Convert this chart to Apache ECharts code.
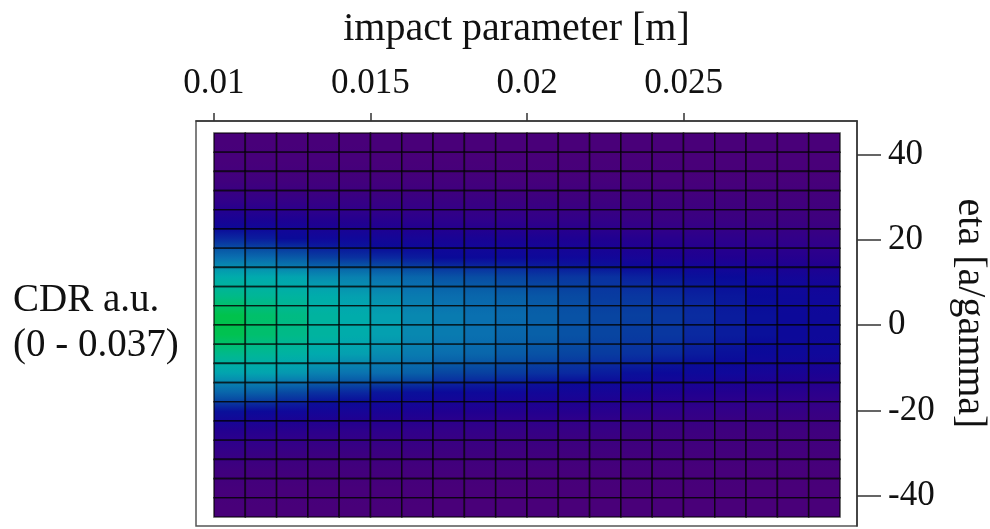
<!DOCTYPE html>
<html>
<head>
<meta charset="utf-8">
<script src="https://cdn.jsdelivr.net/npm/echarts@6/dist/echarts.min.js"></script>
<style>
  html, body { margin: 0; padding: 0; background: #ffffff; }
  #chart { width: 990px; height: 529px; }
</style>
</head>
<body>
<div id="chart"></div>
<script>
// Cell centres along the impact parameter [m]
const impactParameter = [
  0.0105, 0.0115, 0.0125, 0.0135, 0.0145, 0.0155, 0.0165, 0.0175, 0.0185, 0.0195,
  0.0205, 0.0215, 0.0225, 0.0235, 0.0245, 0.0255, 0.0265, 0.0275, 0.0285, 0.0295
];
// Cell centres along eta [a/gamma], top row first
const eta = [
  42.75, 38.25, 33.75, 29.25, 24.75, 20.25, 15.75, 11.25, 6.75, 2.25,
  -2.25, -6.75, -11.25, -15.75, -20.25, -24.75, -29.25, -33.75, -38.25, -42.75
];
// CDR intensity (a.u.), one row per eta value, one column per impact parameter
const cdr = [
  [0.0007,0.0007,0.0007,0.0007,0.0007,0.0007,0.0004,0.0004,0.0004,0.0004,0.0004,0.0004,0.0004,0.0004,0.0004,0.0004,0.0004,0.0004,0.0004,0.0004],
  [0.0011,0.0011,0.0011,0.0011,0.0011,0.0007,0.0007,0.0007,0.0007,0.0007,0.0007,0.0007,0.0007,0.0007,0.0007,0.0004,0.0004,0.0004,0.0004,0.0004],
  [0.0026,0.0026,0.0022,0.0022,0.0022,0.0019,0.0019,0.0019,0.0019,0.0015,0.0015,0.0015,0.0015,0.0015,0.0011,0.0011,0.0011,0.0011,0.0011,0.0011],
  [0.0059,0.0056,0.0052,0.0048,0.0048,0.0044,0.0044,0.0041,0.0041,0.0037,0.0037,0.0033,0.0033,0.0030,0.0030,0.0026,0.0026,0.0022,0.0022,0.0022],
  [0.0096,0.0093,0.0089,0.0081,0.0078,0.0074,0.0070,0.0067,0.0063,0.0063,0.0059,0.0059,0.0056,0.0048,0.0044,0.0044,0.0041,0.0037,0.0037,0.0033],
  [0.0141,0.0133,0.0122,0.0111,0.0111,0.0104,0.0100,0.0096,0.0096,0.0093,0.0093,0.0089,0.0085,0.0078,0.0074,0.0070,0.0067,0.0063,0.0059,0.0056],
  [0.0204,0.0196,0.0181,0.0159,0.0148,0.0141,0.0133,0.0122,0.0118,0.0118,0.0115,0.0111,0.0107,0.0100,0.0093,0.0089,0.0085,0.0081,0.0078,0.0074],
  [0.0274,0.0270,0.0259,0.0233,0.0222,0.0207,0.0192,0.0174,0.0170,0.0163,0.0155,0.0152,0.0148,0.0137,0.0130,0.0126,0.0122,0.0111,0.0104,0.0100],
  [0.0318,0.0303,0.0292,0.0274,0.0252,0.0237,0.0215,0.0200,0.0192,0.0185,0.0178,0.0167,0.0155,0.0152,0.0144,0.0137,0.0130,0.0122,0.0115,0.0111],
  [0.0370,0.0344,0.0322,0.0292,0.0274,0.0252,0.0229,0.0215,0.0204,0.0196,0.0185,0.0174,0.0163,0.0159,0.0152,0.0144,0.0133,0.0126,0.0118,0.0115],
  [0.0366,0.0340,0.0318,0.0292,0.0274,0.0252,0.0229,0.0215,0.0204,0.0192,0.0185,0.0174,0.0163,0.0155,0.0152,0.0141,0.0133,0.0126,0.0118,0.0115],
  [0.0315,0.0303,0.0289,0.0270,0.0252,0.0233,0.0215,0.0200,0.0192,0.0181,0.0174,0.0163,0.0155,0.0148,0.0141,0.0133,0.0126,0.0118,0.0115,0.0111],
  [0.0259,0.0259,0.0244,0.0222,0.0207,0.0200,0.0185,0.0163,0.0159,0.0155,0.0148,0.0141,0.0133,0.0126,0.0118,0.0115,0.0111,0.0100,0.0096,0.0093],
  [0.0192,0.0185,0.0167,0.0148,0.0141,0.0130,0.0126,0.0118,0.0115,0.0111,0.0107,0.0104,0.0100,0.0093,0.0089,0.0085,0.0081,0.0078,0.0074,0.0070],
  [0.0126,0.0118,0.0111,0.0104,0.0100,0.0096,0.0093,0.0085,0.0085,0.0081,0.0081,0.0078,0.0074,0.0067,0.0063,0.0059,0.0056,0.0052,0.0052,0.0048],
  [0.0081,0.0078,0.0074,0.0070,0.0067,0.0067,0.0063,0.0056,0.0056,0.0052,0.0052,0.0048,0.0048,0.0041,0.0037,0.0037,0.0033,0.0033,0.0030,0.0030],
  [0.0056,0.0052,0.0048,0.0044,0.0044,0.0041,0.0041,0.0037,0.0037,0.0033,0.0033,0.0030,0.0030,0.0026,0.0026,0.0022,0.0022,0.0022,0.0019,0.0019],
  [0.0030,0.0026,0.0026,0.0022,0.0022,0.0022,0.0019,0.0019,0.0019,0.0019,0.0015,0.0015,0.0015,0.0015,0.0015,0.0011,0.0011,0.0011,0.0011,0.0011],
  [0.0015,0.0015,0.0011,0.0011,0.0011,0.0011,0.0011,0.0007,0.0007,0.0007,0.0007,0.0007,0.0007,0.0007,0.0007,0.0007,0.0007,0.0004,0.0004,0.0004],
  [0.0007,0.0007,0.0007,0.0007,0.0007,0.0007,0.0004,0.0004,0.0004,0.0004,0.0004,0.0004,0.0004,0.0004,0.0004,0.0004,0.0004,0.0004,0.0004,0.0004]
];
const cdrRange = [0, 0.037];
const impactTicks = [0.01, 0.015, 0.02, 0.025];
const etaTicks = [-40, -20, 0, 20, 40];

// Colour scale: purple (low) -> deep blue -> teal -> green (high)
const colorStops = [
  [0.00, '#4b0078'], [0.10, '#3c007f'], [0.17, '#30008a'], [0.23, '#200090'],
  [0.30, '#10089a'], [0.33, '#0a0a98'], [0.38, '#0a28a0'], [0.43, '#0840a0'],
  [0.50, '#0860a8'], [0.55, '#0a70b0'], [0.62, '#0888b0'], [0.68, '#04a0b0'],
  [0.73, '#00aaae'], [0.78, '#00b2a2'], [0.84, '#00b890'], [0.91, '#00bf72'],
  [1.00, '#00c24c']
];
function hexToRgb(h) {
  return [parseInt(h.slice(1, 3), 16), parseInt(h.slice(3, 5), 16), parseInt(h.slice(5, 7), 16)];
}
function colorFor(v) {
  let f = (v - cdrRange[0]) / (cdrRange[1] - cdrRange[0]);
  f = Math.max(0, Math.min(1, f));
  for (let i = 1; i < colorStops.length; i++) {
    if (f <= colorStops[i][0]) {
      const [f0, c0] = colorStops[i - 1];
      const [f1, c1] = colorStops[i];
      const t = (f - f0) / (f1 - f0);
      const a = hexToRgb(c0), b = hexToRgb(c1);
      const c = a.map((x, k) => Math.round(x + (b[k] - x) * t));
      return 'rgb(' + c.join(',') + ')';
    }
  }
  return colorStops[colorStops.length - 1][1];
}

const cellData = [];
for (let r = 0; r < eta.length; r++) {
  for (let c = 0; c < impactParameter.length; c++) {
    cellData.push([impactParameter[c], eta[r], cdr[r][c], r, c]);
  }
}
const cellW = impactParameter[1] - impactParameter[0];
const cellH = eta[0] - eta[1];

// Each cell shades smoothly towards its upper and lower neighbours
function renderCell(params, api) {
  const x = api.value(0), y = api.value(1), v = api.value(2);
  const r = api.value(3), c = api.value(4);
  const p0 = api.coord([x - cellW / 2, y + cellH / 2]);
  const p1 = api.coord([x + cellW / 2, y - cellH / 2]);
  const above = r > 0 ? cdr[r - 1][c] : v;
  const below = r < eta.length - 1 ? cdr[r + 1][c] : v;
  const fill = new echarts.graphic.LinearGradient(0, 0, 0, 1, [
    { offset: 0, color: colorFor((v + above) / 2) },
    { offset: 0.5, color: colorFor(v) },
    { offset: 1, color: colorFor((v + below) / 2) }
  ]);
  return {
    type: 'rect',
    shape: { x: p0[0], y: p0[1], width: p1[0] - p0[0], height: p1[1] - p0[1] },
    style: { fill: fill, stroke: 'rgba(0,0,0,0.68)', lineWidth: 1.6 }
  };
}

const serif = '"Liberation Serif", "DejaVu Serif", serif';
const chart = echarts.init(document.getElementById('chart'), null, { renderer: 'canvas' });
chart.setOption({
  backgroundColor: '#ffffff',
  animation: false,
  title: {
    text: 'CDR a.u.\n(0 - 0.037)',
    left: 8,
    top: 273,
    textStyle: { fontFamily: serif, fontSize: 39, fontWeight: 'normal', color: '#111', lineHeight: 45 }
  },
  grid: {
    left: 196, right: 133, top: 121, bottom: 3,
    outerBoundsMode: 'none',
    containLabel: false,
    show: true, borderColor: '#555', borderWidth: 1.5, backgroundColor: '#ffffff'
  },
  xAxis: {
    type: 'value',
    position: 'top',
    min: 0.009425,
    max: 0.030543,
    name: 'impact parameter [m]',
    nameLocation: 'middle',
    nameGap: 72,
    nameTextStyle: { fontFamily: serif, fontSize: 40, color: '#111', padding: [0, 20, 0, 0] },
    axisLine: { show: true, onZero: false, lineStyle: { color: '#333', width: 1.5 } },
    axisTick: { show: true, length: 8, customValues: impactTicks, lineStyle: { color: '#333', width: 1.5 } },
    axisLabel: {
      customValues: impactTicks,
      margin: 20,
      fontFamily: serif, fontSize: 35, color: '#111',
      formatter: v => String(v)
    },
    splitLine: { show: false }
  },
  yAxis: {
    type: 'value',
    position: 'right',
    min: -47.11,
    max: 47.81,
    name: 'eta [a/gamma]',
    nameLocation: 'middle',
    nameRotate: -90,
    nameGap: 92,
    nameTextStyle: { fontFamily: serif, fontSize: 40, color: '#111', padding: [0, 20, 0, 0] },
    axisLine: { show: true, onZero: false, lineStyle: { color: '#333', width: 1.5 } },
    axisTick: { show: true, length: 24, customValues: etaTicks, lineStyle: { color: '#333', width: 1.5 } },
    axisLabel: {
      customValues: etaTicks,
      margin: 31,
      fontFamily: serif, fontSize: 35, color: '#111',
      formatter: v => String(v)
    },
    splitLine: { show: false }
  },
  series: [{
    type: 'custom',
    renderItem: renderCell,
    data: cellData,
    encode: { x: 0, y: 1 },
    clip: true
  }]
});
</script>
</body>
</html>
